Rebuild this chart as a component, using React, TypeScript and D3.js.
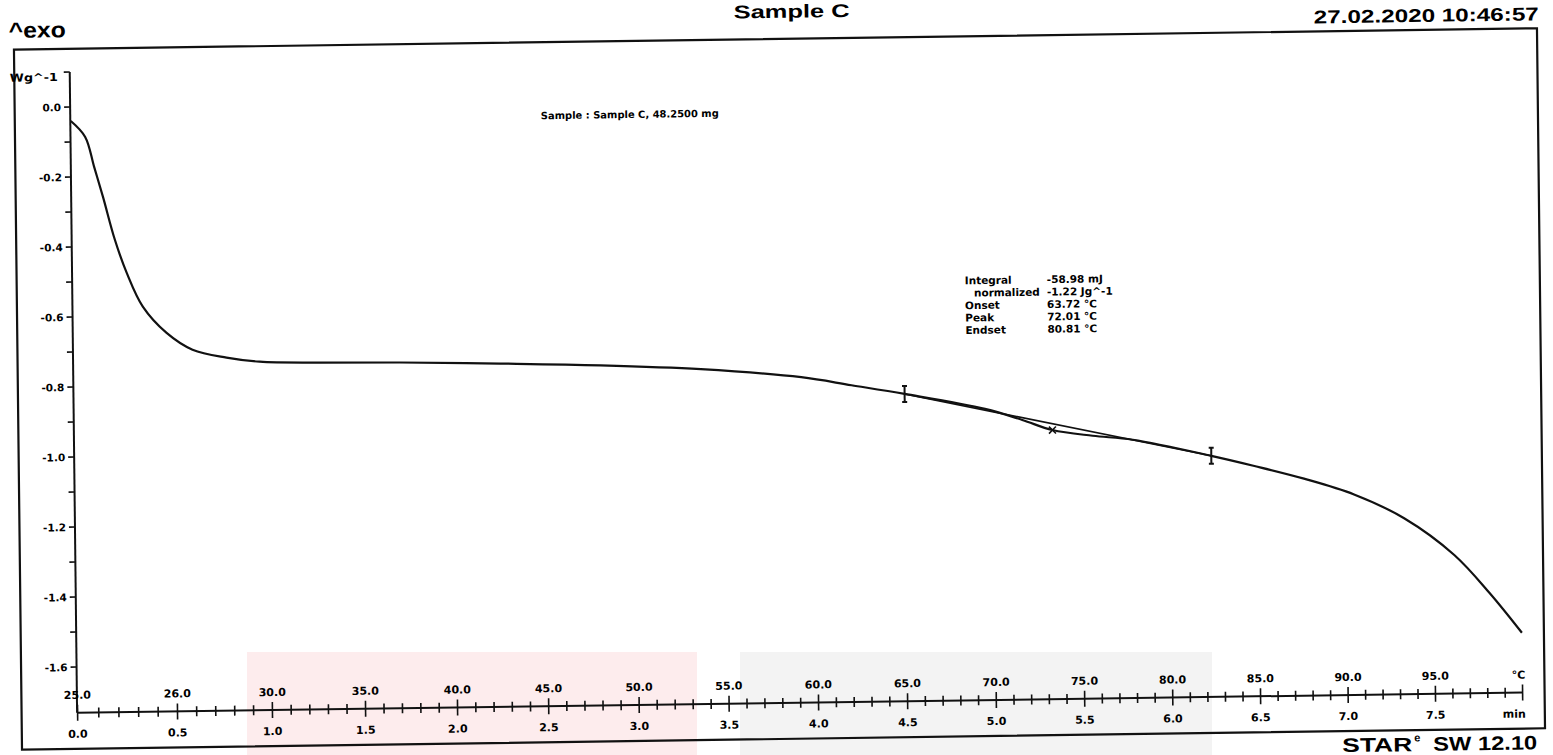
import * as d3 from "d3";

// DSC curve: time (min) vs heat flow (W/g)
const timeMin = [0, 0.066, 0.108, 0.15, 0.207, 0.265, 0.345, 0.466, 0.6, 0.778, 0.953, 1.274, 1.707, 2.255, 2.807, 3.364, 3.924, 4.205, 4.503, 4.955, 5.165, 5.335, 5.562, 5.79, 6.235, 6.474, 6.762, 7.047, 7.332, 7.617, 7.817, 8.0];
const heatFlow = [-0.04, -0.086, -0.172, -0.258, -0.381, -0.476, -0.573, -0.649, -0.698, -0.722, -0.735, -0.74, -0.743, -0.75, -0.759, -0.774, -0.801, -0.826, -0.853, -0.899, -0.932, -0.962, -0.98, -0.993, -1.042, -1.072, -1.111, -1.158, -1.228, -1.335, -1.445, -1.56];

// integration limits and peak marker
const limitTimes = [4.503, 6.235];
const limitValues = [-0.853, -1.042];
const peakTimes = [5.335];
const peakValues = [-0.962];

const yMajorTicks = [0, -0.2, -0.4, -0.6, -0.8, -1.0, -1.2, -1.4, -1.6];
const yMinorTicks = [0.1, -0.1, -0.3, -0.5, -0.7, -0.9, -1.1, -1.3, -1.5];
const minuteLabels = [0, 0.5, 1.0, 1.5, 2.0, 2.5, 3.0, 3.5, 4.0, 4.5, 5.0, 5.5, 6.0, 6.5, 7.0, 7.5];
const tempLabels = ["25.0", "26.0", "30.0", "35.0", "40.0", "45.0", "50.0", "55.0", "60.0", "65.0", "70.0", "75.0", "80.0", "85.0", "90.0", "95.0"];

const resultNames = ["Integral", "normalized", "Onset", "Peak", "Endset"];
const resultValues = ["-58.98 mJ", "-1.22 Jg^-1", "63.72 °C", "72.01 °C", "80.81 °C"];

export default function App() {
  const width = 1553;
  const height = 755;
  const frameLeft = 18;
  const frameRight = 1541;
  const frameTop = 39;
  const frameBottom = 739;
  const axisX = 73.5;
  const axisY = 703;

  const dejavu = "'DejaVu Sans', Verdana, sans-serif";
  const arial = "'Liberation Sans', Arial, sans-serif";

  // the paper was scanned slightly tilted
  const tilt = `matrix(1,-0.014,0.0115,1,${-0.0115 * 390},${0.014 * 776})`;

  const x = d3.scalePow().exponent(0.9636).domain([0, 8]).range([74, 1519]);
  const y = d3.scaleLinear().domain([-1.6, 0]).range([657.2, 97.2]);

  const points: [number, number][] = timeMin.map((t, i) => [t, heatFlow[i]]);
  const line = d3
    .line<[number, number]>()
    .x((d) => x(d[0]))
    .y((d) => y(d[1]))
    .curve(d3.curveCatmullRom.alpha(0.5));

  const xTicks = x.ticks(80);
  const isMajor = (t: number) => Math.abs(t * 2 - Math.round(t * 2)) < 1e-6;

  return (
    <svg
      width={width}
      height={height}
      style={{ position: "absolute", left: 0, top: 0, display: "block", background: "#fff" }}
    >
      {/* watermark tints */}
      <rect x={247} y={652} width={450} height={103} fill="#fdeced" />
      <rect x={740} y={652} width={472} height={103} fill="#f3f3f3" />

      <g transform={tilt}>
        {/* header */}
        <text x={13} y={27.3} fontFamily={arial} fontWeight="bold" fontSize={22} textLength={57} lengthAdjust="spacingAndGlyphs">
          ^exo
        </text>
        <text x={796} y={18} textAnchor="middle" fontFamily={arial} fontWeight="bold" fontSize={18.5} textLength={116} lengthAdjust="spacingAndGlyphs">
          Sample C
        </text>
        <text x={1543} y={31} textAnchor="end" fontFamily={arial} fontWeight="bold" fontSize={18.5} textLength={225} lengthAdjust="spacingAndGlyphs">
          27.02.2020 10:46:57
        </text>

        {/* frame */}
        <rect
          x={frameLeft}
          y={frameTop}
          width={frameRight - frameLeft}
          height={frameBottom - frameTop}
          fill="none"
          stroke="#111"
          strokeWidth={2.2}
        />

        {/* footer */}
        <text x={1338} y={760} fontFamily={arial} fontWeight="bold" fontSize={19.5} textLength={70} lengthAdjust="spacingAndGlyphs">
          STAR
        </text>
        <text x={1410} y={750.5} fontFamily={arial} fontWeight="bold" fontSize={11}>
          e
        </text>
        <text x={1429} y={760} fontFamily={arial} fontWeight="bold" fontSize={19.5} textLength={104} lengthAdjust="spacingAndGlyphs">
          SW 12.10
        </text>

        {/* y axis */}
        <line x1={axisX} x2={axisX} y1={y(0.1)} y2={axisY} stroke="#111" strokeWidth={2} />
        {yMinorTicks.map((t) => (
          <line key={"ym" + t} x1={axisX - 6} x2={axisX} y1={y(t)} y2={y(t)} stroke="#111" strokeWidth={1.6} />
        ))}
        {yMajorTicks.map((t) => (
          <g key={"yM" + t}>
            <line x1={axisX - 6} x2={axisX} y1={y(t)} y2={y(t)} stroke="#111" strokeWidth={1.6} />
            <text x={axisX - 9} y={y(t) + 4} textAnchor="end" fontFamily={dejavu} fontWeight="bold" fontSize={10.5}>
              {t.toFixed(1)}
            </text>
          </g>
        ))}
        <text x={13.5} y={71} fontFamily={dejavu} fontWeight="bold" fontSize={11} textLength={48} lengthAdjust="spacingAndGlyphs">
          Wg^-1
        </text>

        {/* x axis: temperature above, minutes below */}
        <line x1={axisX} x2={x(8)} y1={axisY} y2={axisY} stroke="#111" strokeWidth={2} />
        {xTicks.map((t) => (
          <line
            key={"xt" + t}
            x1={x(t)}
            x2={x(t)}
            y1={axisY - (isMajor(t) ? 8 : 5)}
            y2={axisY + (isMajor(t) ? 8 : 5)}
            stroke="#111"
            strokeWidth={1.6}
          />
        ))}
        {minuteLabels.map((t, i) => (
          <g key={"xl" + t} fontFamily={dejavu} fontWeight="bold" fontSize={11} textAnchor="middle">
            <text x={x(t)} y={axisY - 14}>
              {tempLabels[i]}
            </text>
            <text x={x(t)} y={axisY + 25}>
              {t.toFixed(1)}
            </text>
          </g>
        ))}
        <text x={1522} y={axisY - 14} textAnchor="end" fontFamily={dejavu} fontWeight="bold" fontSize={11}>
          °C
        </text>
        <text x={1522} y={axisY + 25} textAnchor="end" fontFamily={dejavu} fontWeight="bold" fontSize={11}>
          min
        </text>

        {/* sample info */}
        <text x={544} y={116} fontFamily={dejavu} fontWeight="bold" fontSize={10} textLength={178} lengthAdjust="spacingAndGlyphs">
          Sample : Sample C, 48.2500 mg
        </text>

        {/* evaluation results */}
        {resultNames.map((name, i) => (
          <g key={name} fontFamily={dejavu} fontWeight="bold" fontSize={10.5}>
            <text x={name === "normalized" ? 975 : 966} y={287 + i * 12.4}>
              {name}
            </text>
            <text x={1048} y={287 + i * 12.4}>
              {resultValues[i]}
            </text>
          </g>
        ))}

        {/* baseline between integration limits */}
        <line
          x1={x(limitTimes[0])}
          y1={y(limitValues[0])}
          x2={x(limitTimes[1])}
          y2={y(limitValues[1])}
          stroke="#111"
          strokeWidth={1.6}
        />

        {/* curve */}
        <path d={line(points) ?? ""} fill="none" stroke="#111" strokeWidth={2.2} />

        {/* limit markers */}
        {limitTimes.map((t, i) => {
          const cx = x(t);
          const cy = y(limitValues[i]);
          return (
            <g key={"lim" + t} stroke="#111" strokeWidth={2}>
              <line x1={cx} x2={cx} y1={cy - 8} y2={cy + 8} />
              <line x1={cx - 2.5} x2={cx + 2.5} y1={cy - 8} y2={cy - 8} />
              <line x1={cx - 2.5} x2={cx + 2.5} y1={cy + 8} y2={cy + 8} />
            </g>
          );
        })}

        {/* peak marker */}
        {peakTimes.map((t, i) => {
          const cx = x(t);
          const cy = y(peakValues[i]);
          return (
            <g key={"pk" + t} stroke="#111" strokeWidth={1.6}>
              <line x1={cx - 3.5} x2={cx + 3.5} y1={cy - 3.5} y2={cy + 3.5} />
              <line x1={cx - 3.5} x2={cx + 3.5} y1={cy + 3.5} y2={cy - 3.5} />
            </g>
          );
        })}
      </g>
    </svg>
  );
}
